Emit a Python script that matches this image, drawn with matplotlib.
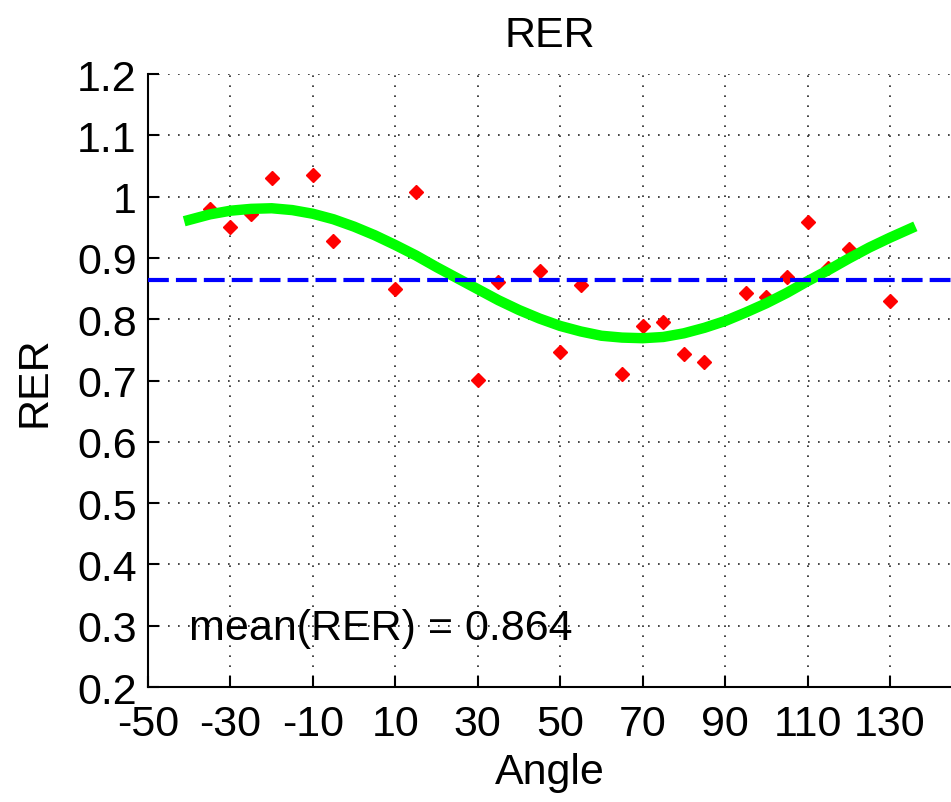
import numpy as np
import matplotlib
matplotlib.use('Agg')
import matplotlib.pyplot as plt
from matplotlib.ticker import FormatStrFormatter

plt.rcParams['font.family'] = ['Liberation Sans', 'DejaVu Sans']
plt.rcParams['axes.unicode_minus'] = False

# measured points (angle, RER)
angle = [-35, -30, -25, -20, -10, -5, 10, 15, 30, 35, 45, 50, 55, 65, 70, 75,
         80, 85, 95, 100, 105, 110, 115, 120, 130]
rer = [0.980, 0.950, 0.972, 1.031, 1.036, 0.928, 0.849, 1.008, 0.701, 0.861,
       0.878, 0.747, 0.855, 0.711, 0.789, 0.796, 0.744, 0.731, 0.842, 0.837,
       0.869, 0.959, 0.884, 0.914, 0.829]

# fitted curve
fit_angle = [-40, -35, -30, -25, -20, -15, -10, -5, 0, 5, 10, 15, 20, 25, 30, 35,
             40, 45, 50, 55, 60, 65, 70, 75, 80, 85, 90, 95, 100, 105, 110,
             115, 120, 125, 130, 135]
fit_rer = [0.962, 0.971, 0.977, 0.980, 0.981, 0.978, 0.972, 0.963, 0.951, 0.937,
           0.921, 0.904, 0.885, 0.867, 0.849, 0.831, 0.815, 0.801, 0.789, 0.780,
           0.773, 0.770, 0.769, 0.771, 0.777, 0.786, 0.797, 0.811, 0.826, 0.843,
           0.862, 0.880, 0.899, 0.917, 0.933, 0.948]

mean_rer = 0.864

fig = plt.figure(figsize=(9.51, 8.03), dpi=100)
ax = fig.add_axes([0.1556, 0.1432, 0.8444, 0.7634])

ax.plot(fit_angle, fit_rer, '-', color='#00ff00', linewidth=7.5, zorder=3)
ax.plot(angle, rer, 'D', color='r', markersize=7.5, markeredgecolor='r', zorder=2)
ax.axhline(mean_rer, color='#0000ff', linewidth=3, dashes=(5, 1.7), zorder=4)

ax.text(-40, 0.279, 'mean(RER) = %.3f' % mean_rer, fontsize=31, va='baseline')

ax.set_xlim(-50, 144.8)
ax.set_ylim(0.2, 1.2)
ax.set_xticks(np.arange(-50, 131, 20))
ax.set_yticks(np.arange(0.2, 1.21, 0.1))
ax.yaxis.set_major_formatter(FormatStrFormatter('%g'))

ax.grid(True, color='0.15', linewidth=1.2, dashes=(1, 5))
ax.set_axisbelow(True)

for s in ['top', 'right']:
    ax.spines[s].set_visible(False)
for s in ['left', 'bottom']:
    ax.spines[s].set_linewidth(1.5)

ax.tick_params(direction='in', length=8, width=1.5, labelsize=31)
ax.tick_params(axis='x', pad=12)
ax.tick_params(axis='y', pad=8)

ax.set_title('RER', fontsize=31, pad=20)
ax.set_xlabel('Angle', fontsize=31, labelpad=6)
ax.set_ylabel('RER', fontsize=31, labelpad=16)

fig.savefig('out.png', dpi=100)
